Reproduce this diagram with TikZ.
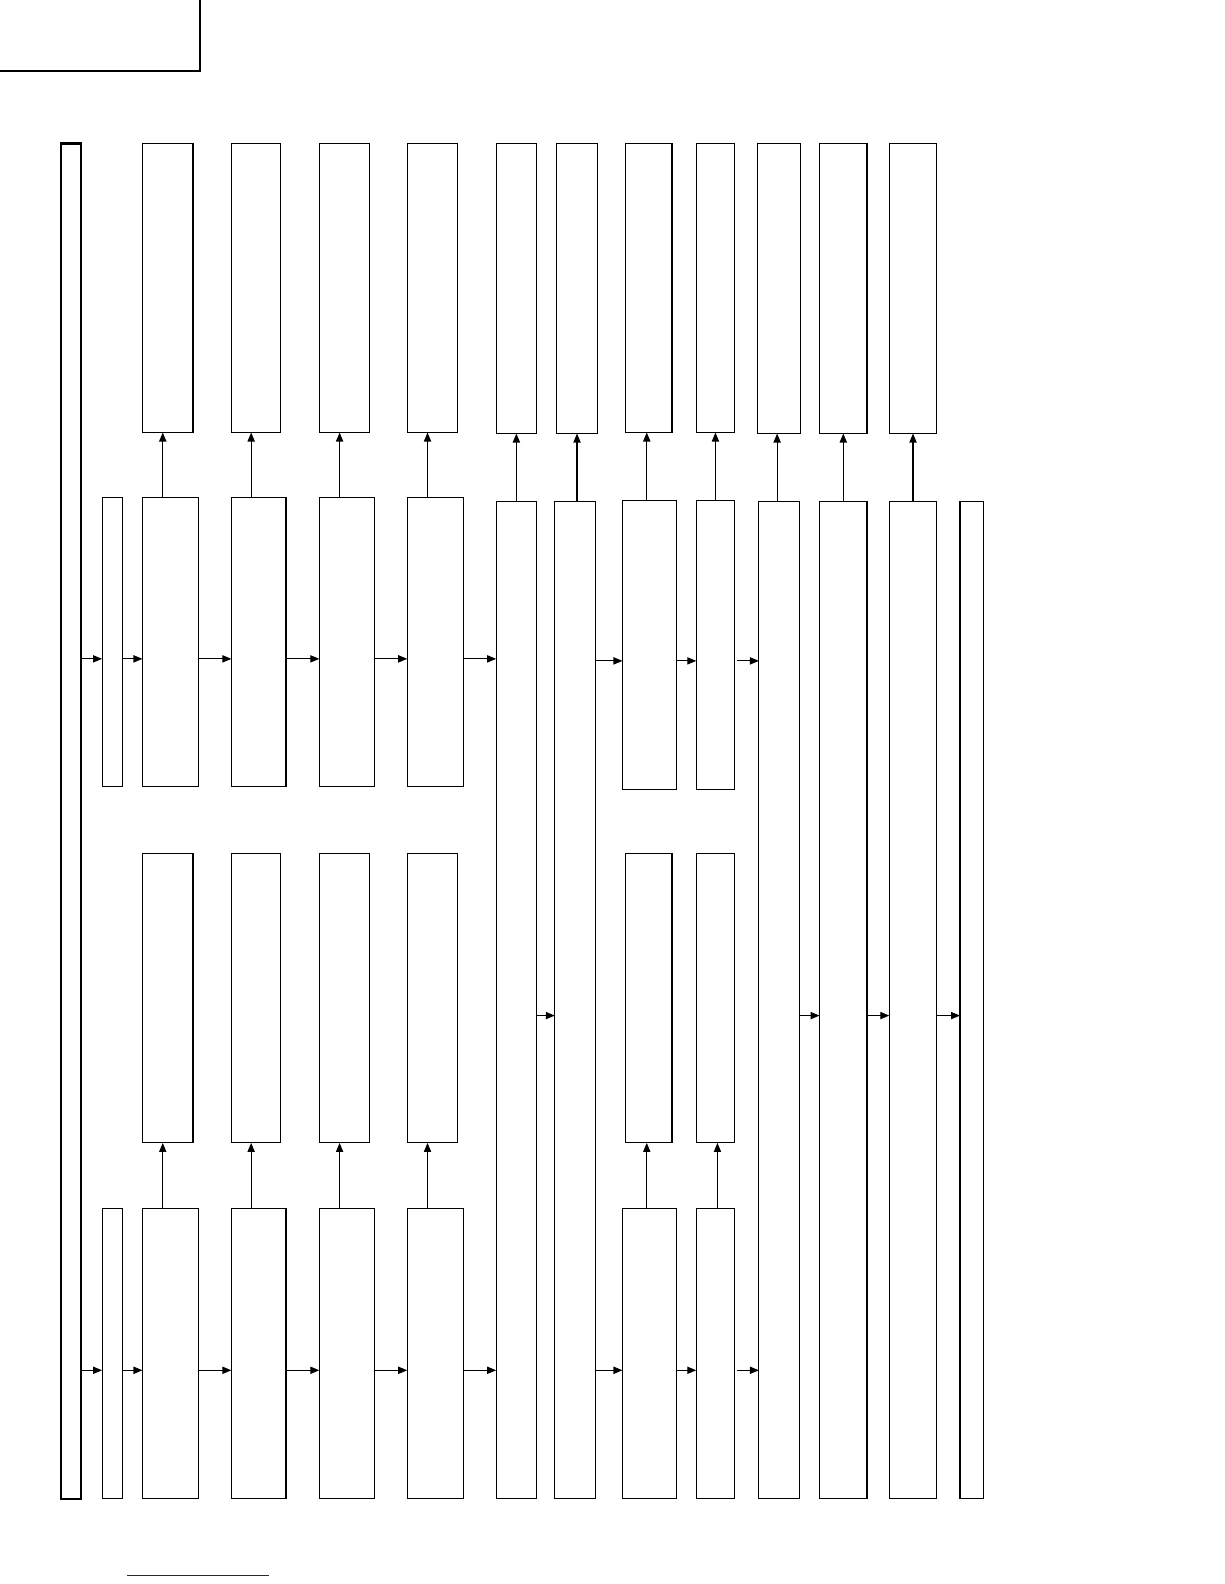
\documentclass[tikz,border=0pt]{standalone}
\usepackage{tikz}
\usetikzlibrary{arrows.meta}

\definecolor{linkblue}{RGB}{30,30,130}

% one drawing unit
\newcommand{\pxu}{0.5053pt}

% block from its corners (x1,y1) to (x2,y2)
\newcommand{\blk}[6][]{%
  \node[box, #1, minimum width={(#5-#3)*\pxu}, minimum height={(#6-#4)*\pxu}]
    (#2) at ({(#3+#5)/2},{(#4+#6)/2}) {};}

\begin{document}
\begin{tikzpicture}[
    x=\pxu, y=-\pxu,
    box/.style={draw, line width=0.55pt, inner sep=0pt, outer sep=0pt},
    heavy/.style={line width=1.1pt},
    arrow/.style={-{Triangle[length=4.5pt,width=3.6pt]}, line width=0.55pt}
]
\useasboundingbox (0,0) rectangle (1211.3,1567.5);

% Sheet corner and side bus
\blk[heavy]{corner}{-10}{-10}{198}{70}
\blk[heavy]{bus}{60}{142}{80}{1483}

% Upper output blocks
\blk{up1}{141}{142}{191}{428}
\blk{up2}{229}{142}{278}{428}
\blk{up3}{316}{142}{366}{428}
\blk{up4}{403}{142}{453}{428}
\blk{up5}{491}{142}{531}{429}
\blk{up6}{551}{142}{591}{429}
\blk{up7}{619}{142}{665}{428}
\blk{up8}{689}{142}{727}{428}
\blk{up9}{750}{142}{792}{429}
\blk{up10}{811}{142}{858}{429}
\blk{up11}{880}{142}{927}{429}

% Upper chain
\blk{sa}{101}{492}{121}{778}
\blk{a1}{141}{492}{196}{778}
\blk{a2}{229}{492}{283}{778}
\blk{a3}{316}{492}{371}{778}
\blk{a4}{403}{492}{459}{778}
\blk{a7}{616}{495}{669}{781}
\blk{a8}{689}{495}{727}{781}

% Shared tall blocks
\blk{t1}{491}{496}{531}{1483}
\blk{t2}{549}{496}{589}{1483}
\blk{t9}{751}{496}{791}{1483}
\blk{t10}{811}{496}{858}{1483}
\blk{t11}{880}{496}{927}{1483}
\blk{t12}{950}{496}{973}{1483}

% Lower output blocks
\blk{lu1}{141}{845}{191}{1131}
\blk{lu2}{229}{845}{278}{1131}
\blk{lu3}{316}{845}{366}{1131}
\blk{lu4}{403}{845}{453}{1131}
\blk{lu7}{619}{845}{665}{1131}
\blk{lu8}{689}{845}{727}{1131}

% Lower chain
\blk{sb}{101}{1196}{121}{1483}
\blk{b1}{141}{1196}{196}{1483}
\blk{b2}{229}{1196}{283}{1483}
\blk{b3}{316}{1196}{371}{1483}
\blk{b4}{403}{1196}{459}{1483}
\blk{b7}{616}{1196}{669}{1483}
\blk{b8}{689}{1196}{727}{1483}

% Row levels
\coordinate (rowA) at (0,652);
\coordinate (rowAr) at (0,654);
\coordinate (rowM) at (0,1005);
\coordinate (rowB) at (0,1356);

% Upper chain arrows
\draw[arrow] (bus.east |- rowA) -- (sa.west |- rowA);
\draw[arrow] (sa.east |- rowA) -- (a1.west |- rowA);
\draw[arrow] (a1.east |- rowA) -- (a2.west |- rowA);
\draw[arrow] (a2.east |- rowA) -- (a3.west |- rowA);
\draw[arrow] (a3.east |- rowA) -- (a4.west |- rowA);
\draw[arrow] (a4.east |- rowA) -- (t1.west |- rowA);
\draw[arrow] (t2.east |- rowAr) -- (a7.west |- rowAr);
\draw[arrow] (a7.east |- rowAr) -- (a8.west |- rowAr);
\draw[arrow] ([xshift=1pt]a8.east |- rowAr) -- (t9.west |- rowAr);

% Middle arrows
\draw[arrow] (t1.east |- rowM) -- (t2.west |- rowM);
\draw[arrow] (t9.east |- rowM) -- (t10.west |- rowM);
\draw[arrow] (t10.east |- rowM) -- (t11.west |- rowM);
\draw[arrow] (t11.east |- rowM) -- (t12.west |- rowM);

% Lower chain arrows
\draw[arrow] (bus.east |- rowB) -- (sb.west |- rowB);
\draw[arrow] (sb.east |- rowB) -- (b1.west |- rowB);
\draw[arrow] (b1.east |- rowB) -- (b2.west |- rowB);
\draw[arrow] (b2.east |- rowB) -- (b3.west |- rowB);
\draw[arrow] (b3.east |- rowB) -- (b4.west |- rowB);
\draw[arrow] (b4.east |- rowB) -- (t1.west |- rowB);
\draw[arrow] (t2.east |- rowB) -- (b7.west |- rowB);
\draw[arrow] (b7.east |- rowB) -- (b8.west |- rowB);
\draw[arrow] ([xshift=1pt]b8.east |- rowB) -- (t9.west |- rowB);

% Upward arrows, upper half
\draw[arrow] ([xshift=-2.5pt]up1.south |- a1.north) -- ([xshift=-2.5pt]up1.south);
\draw[arrow] ([xshift=-2.5pt]up2.south |- a2.north) -- ([xshift=-2.5pt]up2.south);
\draw[arrow] ([xshift=-2.5pt]up3.south |- a3.north) -- ([xshift=-2.5pt]up3.south);
\draw[arrow] ([xshift=-2.5pt]up4.south |- a4.north) -- ([xshift=-2.5pt]up4.south);
\draw[arrow] (up5.south |- t1.north) -- (up5.south);
\draw[arrow] (up6.south |- t2.north) -- (up6.south);
\draw[arrow] ([xshift=-1pt]up7.south |- a7.north) -- ([xshift=-1pt]up7.south);
\draw[arrow] (up8.south |- a8.north) -- (up8.south);
\draw[arrow] ([xshift=-1pt]up9.south |- t9.north) -- ([xshift=-1pt]up9.south);
\draw[arrow] (up10.south |- t10.north) -- (up10.south);
\draw[arrow] (up11.south |- t11.north) -- (up11.south);

% Upward arrows, lower half
\draw[arrow] ([xshift=-2.5pt]lu1.south |- b1.north) -- ([xshift=-2.5pt]lu1.south);
\draw[arrow] ([xshift=-2.5pt]lu2.south |- b2.north) -- ([xshift=-2.5pt]lu2.south);
\draw[arrow] ([xshift=-2.5pt]lu3.south |- b3.north) -- ([xshift=-2.5pt]lu3.south);
\draw[arrow] ([xshift=-2.5pt]lu4.south |- b4.north) -- ([xshift=-2.5pt]lu4.south);
\draw[arrow] ([xshift=-1pt]lu7.south |- b7.north) -- ([xshift=-1pt]lu7.south);
\draw[arrow] ([xshift=1pt]lu8.south |- b8.north) -- ([xshift=1pt]lu8.south);

% Link rule at the foot
\coordinate (linkL) at (126,1559);
\coordinate (linkR) at (266,1559);
\draw[linkblue, line width=0.8pt] (linkL) -- (linkR);

\end{tikzpicture}
\end{document}
